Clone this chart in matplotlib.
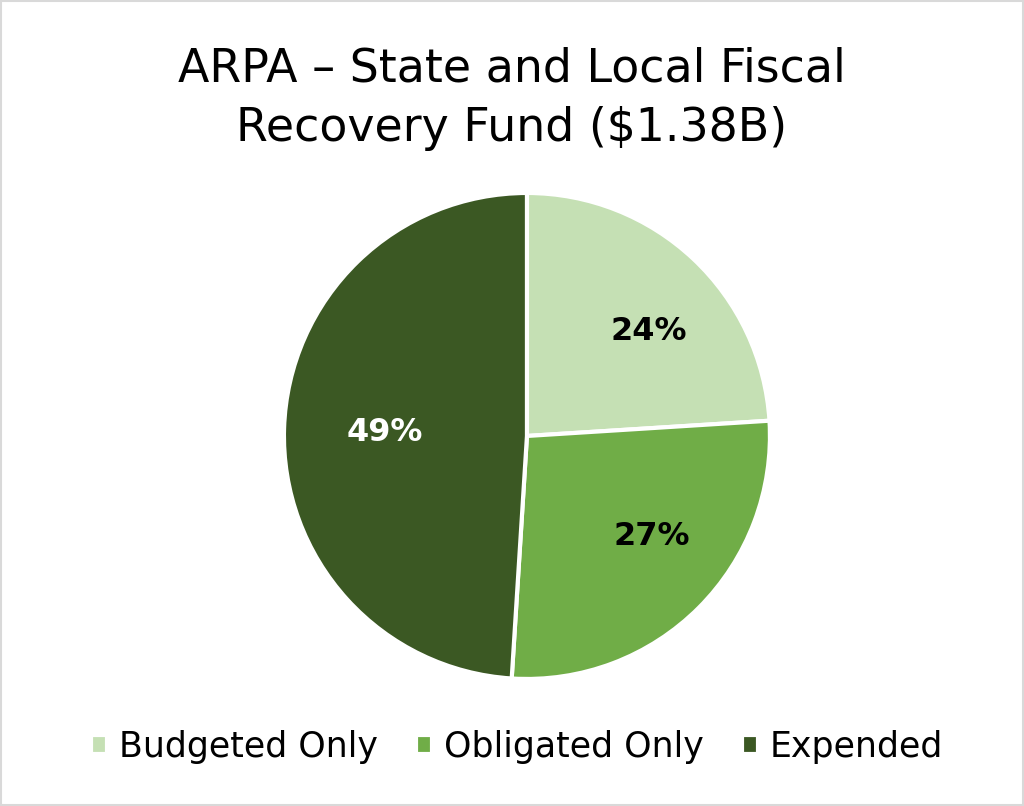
import numpy as np
import matplotlib.pyplot as plt
from matplotlib.patches import Rectangle

labels = ["Budgeted Only", "Obligated Only", "Expended"]
shares = [24, 27, 49]
colors = ["#C5E0B4", "#70AD47", "#3B5823"]
text_colors = ["black", "black", "white"]
label_dist = [0.66, 0.66, 0.585]

fig = plt.figure(figsize=(10.24, 8.06), dpi=100)
ax = fig.add_axes([0.2773, 0.1576, 0.4746, 0.603])

wedges, texts, autotexts = ax.pie(
    shares, colors=colors, startangle=90, counterclock=False,
    autopct="%d%%", pctdistance=0.63,
    wedgeprops=dict(edgecolor="white", linewidth=3),
    textprops=dict(fontsize=23, fontweight="bold"))
# nudge labels like Excel does (pulled a bit toward the horizontal)
for w, t, c, d in zip(wedges, autotexts, text_colors, label_dist):
    mid = (w.theta1 + w.theta2) / 2
    ang = np.deg2rad(mid - 0.15 * np.sin(np.deg2rad(2 * mid)) * 40)
    t.set_position((d * np.cos(ang), d * np.sin(ang)))
    t.set_color(c)
ax.set_xlim(-1, 1)
ax.set_ylim(-1, 1)
ax.set_aspect("equal")

fig.text(0.5, 0.877, "ARPA \u2013 State and Local Fiscal\nRecovery Fund ($1.38B)",
         ha="center", va="center", fontsize=33, linespacing=1.42)

fig.legend(wedges, labels, loc="center", bbox_to_anchor=(0.505, 0.073), ncol=3,
           frameon=False, fontsize=25, handlelength=0.45, handleheight=0.45,
           handletextpad=0.35, columnspacing=1.1)

fig.patches.append(Rectangle((0.001, 0.001), 0.998, 0.998, transform=fig.transFigure,
                             fill=False, edgecolor="#D9D9D9", linewidth=1.5))

fig.savefig("out.png", dpi=100)
